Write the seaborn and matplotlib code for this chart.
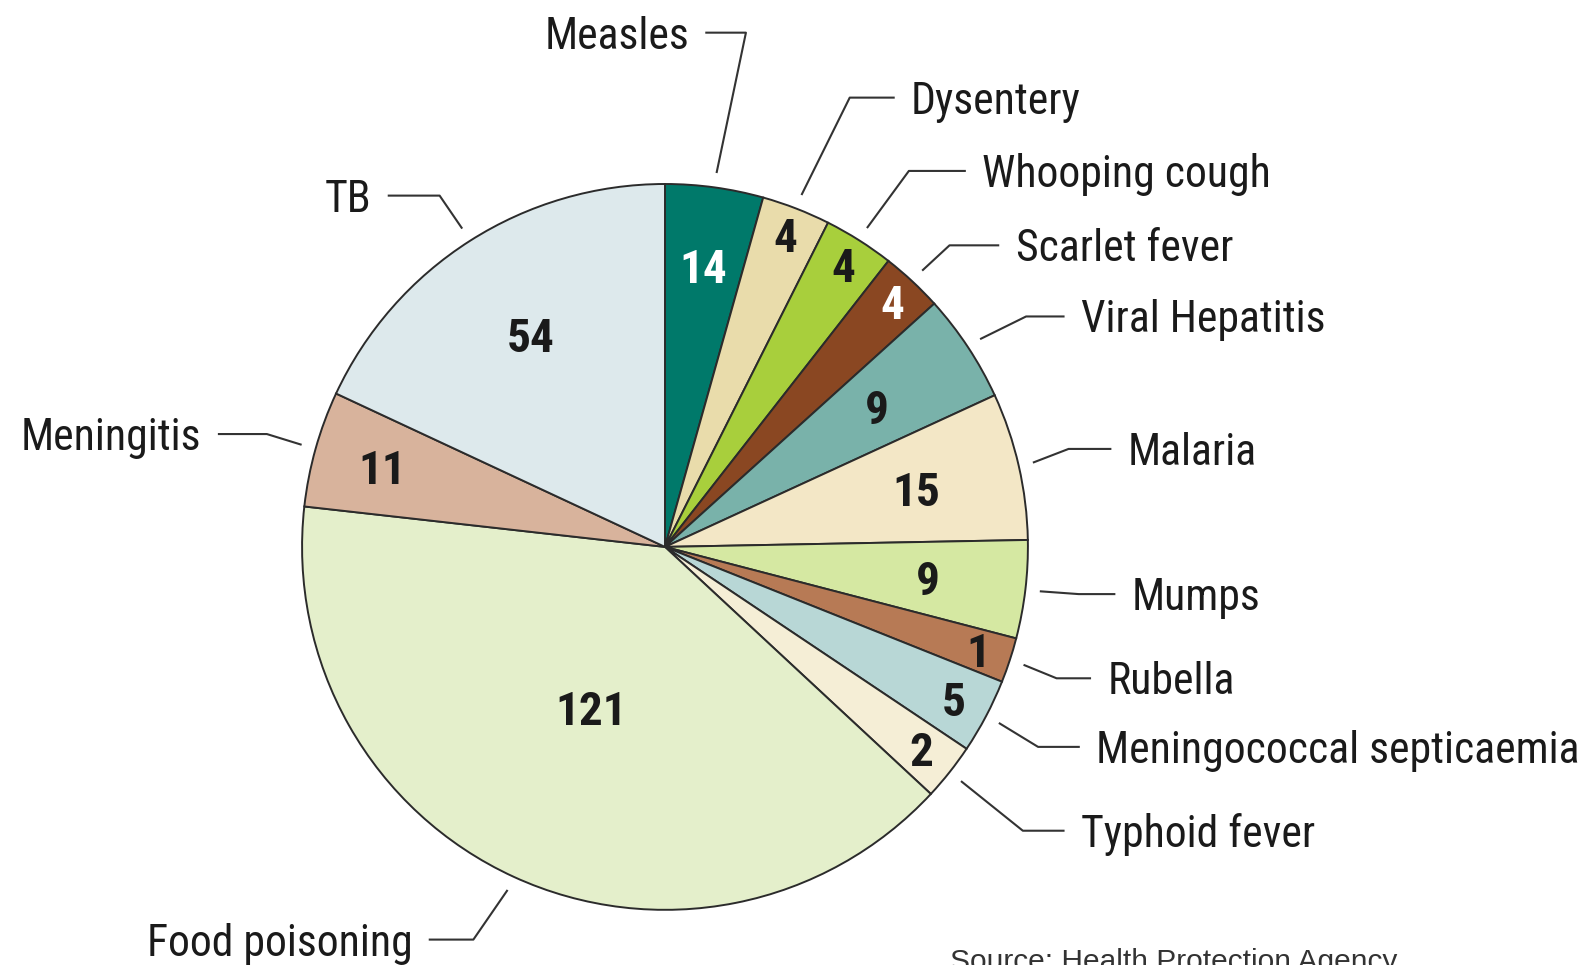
import numpy as np
import matplotlib
matplotlib.use("Agg")
import matplotlib.pyplot as plt
from matplotlib import font_manager as fm
import seaborn as sns

# 질병별 보고 건수 (라벨 숫자)와 그림에서 읽은 조각 크기(도)
diseases = ["Measles", "Dysentery", "Whooping cough", "Scarlet fever",
            "Viral Hepatitis", "Malaria", "Mumps", "Rubella",
            "Meningococcal septicaemia", "Typhoid fever", "Food poisoning",
            "Meningitis", "TB"]
cases = [14, 4, 4, 4, 9, 15, 9, 1, 5, 2, 121, 11, 54]
slice_deg = [15.7, 11.0, 11.3, 9.9, 17.4, 23.6, 15.7, 7.2, 12.0, 9.1,
             143.5, 18.6, 65.0]
source_note = "Source: Health Protection Agency"

colors = ["#00796a", "#e9dcab", "#a8cf3c", "#8a4722", "#79b2aa", "#f3e7c6",
          "#d5e8a2", "#b77a55", "#b8d7d6", "#f5eed6", "#e4efcb", "#d8b39c",
          "#dde9ec"]
num_colors = ["white", "#1a1a1a", "#1a1a1a", "white"] + ["#1a1a1a"] * 9
num_radius = [0.78, 0.92, 0.92, 0.92, 0.70, 0.71, 0.73, 0.91, 0.90, 0.90,
              0.49, 0.81, 0.69]

# 라벨 배치: (글자 x, 글자 y, 꺾이는 x, 정렬)  — 파이 반지름 단위
label_pos = [
    (0.066, 1.417, 0.223, "right"),
    (0.678, 1.238, 0.509, "left"),
    (0.874, 1.036, 0.672, "left"),
    (0.966, 0.831, 0.784, "left"),
    (1.146, 0.635, 0.995, "left"),
    (1.275, 0.270, 1.112, "left"),
    (1.286, -0.130, 1.140, "left"),
    (1.219, -0.362, 1.079, "left"),
    (1.188, -0.551, 1.028, "left"),
    (1.146, -0.782, 0.986, "left"),
    (-0.696, -1.082, -0.528, "right"),
    (-1.277, 0.311, -1.097, "right"),
    (-0.809, 0.968, -0.621, "right"),
]


# 좁은(condensed) 글꼴이 있으면 그걸 쓰고, 없으면 Liberation Sans로
def is_narrow(f):
    s = f.stretch
    if isinstance(s, str):
        return s in ("condensed", "semi-condensed", "extra-condensed",
                     "ultra-condensed") or "Narrow" in f.name
    return s < 500 or "Narrow" in f.name or "Condensed" in f.name


def pick(weight_ok):
    found = [f for f in fm.fontManager.ttflist
             if is_narrow(f) and f.style == "normal" and weight_ok(f.weight)]
    for pref in ("Liberation Sans Narrow", "Roboto Condensed", "Noto Sans",
                 "Open Sans", "DejaVu Sans"):
        for f in found:
            if f.name.startswith(pref):
                return f.fname
    return found[0].fname if found else None


def wnum(w):
    table = {"normal": 400, "regular": 400, "book": 400, "medium": 500,
             "semibold": 600, "demibold": 600, "bold": 700, "heavy": 800,
             "light": 300}
    return w if isinstance(w, int) else table.get(w, 400)


reg_file = pick(lambda w: 380 <= wnum(w) <= 450)
bold_file = pick(lambda w: 650 <= wnum(w) <= 750)

if reg_file:
    label_font = fm.FontProperties(fname=reg_file, size=31.5)
else:
    label_font = fm.FontProperties(family="Liberation Sans", size=27)
if bold_file:
    num_font = fm.FontProperties(fname=bold_file, size=34)
else:
    num_font = fm.FontProperties(family="Liberation Sans", weight="bold",
                                 size=30)

sns.set_style("white")

fig = plt.figure(figsize=(15.96, 9.65), dpi=100)
ax = fig.add_axes([0, 0, 1, 1])

wedges, _ = ax.pie(
    slice_deg, startangle=90, counterclock=False, colors=colors,
    radius=1.0,
    wedgeprops=dict(edgecolor="#2b2b2b", linewidth=1.4),
)

for w, n, nc, r, name, (tx, ty, ex, ha) in zip(
        wedges, cases, num_colors, num_radius, diseases, label_pos):
    mid = np.deg2rad((w.theta1 + w.theta2) / 2)
    ax.text(r * np.cos(mid), r * np.sin(mid) - 0.046, str(n),
            ha="center", va="baseline", color=nc, fontproperties=num_font)

    # 안내선: 글자 옆 가로선 -> 파이 가장자리
    ax_x, ax_y = 1.04 * np.cos(mid), 1.04 * np.sin(mid)
    gap = 0.045 if ha == "right" else -0.045
    ax.plot([tx + gap, ex, ax_x], [ty, ty, ax_y], color="#333333",
            linewidth=1.5, solid_capstyle="butt")
    ax.text(tx, ty - 0.044, name, ha=ha, va="baseline", color="#1a1a1a",
            fontproperties=label_font)

ax.text(0.786, -1.165, source_note, ha="left", va="baseline", fontsize=21.5,
        color="#333333", family=["Liberation Sans", "DejaVu Sans"])

ax.set_xlim(-1.832, 2.565)
ax.set_ylim(-1.152, 1.507)
ax.set_aspect("equal")
ax.axis("off")

fig.savefig("out.png", dpi=100, facecolor="white")
